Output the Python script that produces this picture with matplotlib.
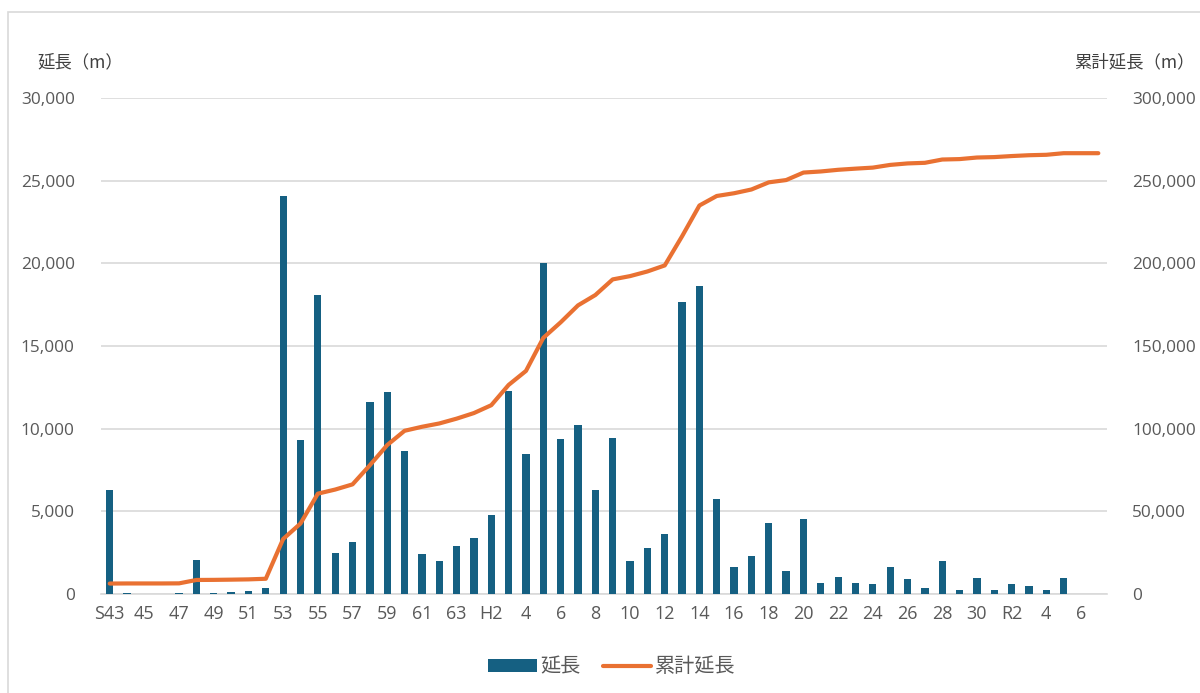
import numpy as np
import matplotlib
matplotlib.use("Agg")
import matplotlib.pyplot as plt
from matplotlib.patches import Patch, Rectangle
from matplotlib.lines import Line2D
from matplotlib.ticker import FuncFormatter

plt.rcParams['font.family'] = ['Noto Sans CJK JP', 'DejaVu Sans']

# ==========================
# データ
# ==========================
years = (['S43'] + [str(y) for y in range(44, 64)]
         + ['H1', 'H2'] + [str(y) for y in range(3, 31)]
         + ['R1', 'R2'] + [str(y) for y in range(3, 8)])

# 延長（m）
lengths = [6300, 60, 0, 0, 60, 2050, 60, 130, 170, 370,
           24060, 9340, 18080, 2480, 3130, 11590, 12190, 8630, 2420, 2010,
           2910, 3390, 4750, 12260, 8480, 20000, 9390, 10250, 6260, 9450,
           1990, 2810, 3650, 17630, 18620, 5760, 1660, 2270, 4320, 1380,
           4530, 670, 1010, 690, 630, 1640, 890, 370, 1990, 260,
           950, 260, 630, 500, 260, 970, 0, 0]

# 累計延長（m）
cumulative = [6300, 6360, 6360, 6360, 6420, 8470, 8530, 8660, 8830, 9200,
              33260, 42600, 60680, 63160, 66290, 77880, 90070, 98700, 101120, 103130,
              106040, 109430, 114180, 126440, 134920, 154920, 164310, 174560, 180820, 190270,
              192260, 195070, 198720, 216350, 234970, 240730, 242390, 244660, 248980, 250360,
              254890, 255560, 256570, 257260, 257890, 259530, 260420, 260790, 262780, 263040,
              263990, 264250, 264880, 265380, 265640, 266610, 266610, 266610]

BAR_COLOR = '#156082'
LINE_COLOR = '#E97132'
TEXT_COLOR = '#595959'
GRID_COLOR = '#D9D9D9'
NUM_FONT = ['Open Sans', 'Noto Sans CJK JP']

x = np.arange(len(years))

fig = plt.figure(figsize=(12, 6.93), dpi=100)
ax = fig.add_axes([0.0842, 0.1429, 0.8383, 0.7157])
ax2 = ax.twinx()

# 枠線
fig.patches.append(Rectangle((8 / 1200, -0.1), 1.2, 1 - 12 / 693 + 0.1,
                             transform=fig.transFigure, fill=False,
                             edgecolor='#D9D9D9', linewidth=1.2))

ax.bar(x, lengths, width=0.42, color=BAR_COLOR, zorder=3)
ax2.plot(x, cumulative, color=LINE_COLOR, linewidth=3.0,
         solid_joinstyle='round', solid_capstyle='round')

ax.set_xlim(-0.5, len(years) - 0.5)
ax.set_ylim(0, 30000)
ax2.set_ylim(0, 300000)
ax.set_yticks(np.arange(0, 30001, 5000))
ax2.set_yticks(np.arange(0, 300001, 50000))

fmt = FuncFormatter(lambda v, p: f'{int(v):,}')
ax.yaxis.set_major_formatter(fmt)
ax2.yaxis.set_major_formatter(fmt)

ax.set_xticks(x[::2])
ax.set_xticklabels(years[::2])

ax.grid(axis='y', color=GRID_COLOR, linewidth=1.2, zorder=0)
ax.set_axisbelow(True)

for a in (ax, ax2):
    for s in a.spines.values():
        s.set_visible(False)
ax.spines['bottom'].set_visible(True)
ax.spines['bottom'].set_color(GRID_COLOR)
ax.spines['bottom'].set_linewidth(1.2)

ax.tick_params(axis='y', length=0, pad=19, labelcolor=TEXT_COLOR)
ax2.tick_params(axis='y', length=0, pad=18, labelcolor=TEXT_COLOR)
ax.tick_params(axis='x', length=0, pad=8, labelcolor=TEXT_COLOR)
for lab in ax.get_xticklabels():
    lab.set_family(NUM_FONT)
    lab.set_fontsize(13)
for lab in ax.get_yticklabels() + ax2.get_yticklabels():
    lab.set_family(NUM_FONT)
    lab.set_fontsize(12.4)

fig.text(37 / 1200, 1 - 62 / 693, '延長（m）', fontsize=12.5, color='#404040',
         ha='left', va='center')
fig.text(1195 / 1200, 1 - 62 / 693, '累計延長（m）', fontsize=12.5, color='#404040',
         ha='right', va='center')

handles = [Patch(facecolor=BAR_COLOR, edgecolor='none'),
           Line2D([0], [0], color=LINE_COLOR, linewidth=3.0, solid_capstyle='round')]
fig.legend(handles, ['延長', '累計延長'], loc='center', bbox_to_anchor=(0.51, 1 - 667 / 693),
           ncol=2, frameon=False, fontsize=14.5, labelcolor=TEXT_COLOR,
           handlelength=2.4, handleheight=0.6, handletextpad=0.2, columnspacing=1.1)

fig.savefig('out.png', dpi=100)
